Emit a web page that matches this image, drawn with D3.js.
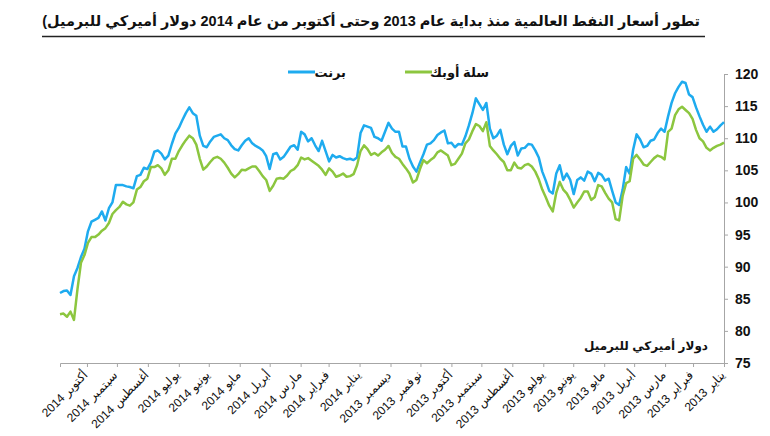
<!DOCTYPE html>
<html><head><meta charset="utf-8">
<script src="https://cdn.jsdelivr.net/npm/d3@7"></script>
<style>
html,body{margin:0;padding:0;background:#fff;}
svg{display:block;font-family:"Liberation Sans",Arial,"DejaVu Sans",sans-serif;}
.rtl{direction:rtl;unicode-bidi:embed;}
</style></head>
<body>
<svg id="chart" width="770" height="436"></svg>
<script>
// ---- data: readings every 3.5 days, chronological from 1 Jan 2013 ----
const titleText = "تطور أسعار النفط العالمية منذ بداية عام 2013 وحتى أكتوبر من عام 2014 دولار أميركي للبرميل)";
const seriesNames = ["برنت", "سلة أوبك"];
const unitLabel = "دولار أميركي للبرميل";
const startDate = "2013-01-01";
const endDate = "2014-10-28";
const stepHours = 84;
const brent = [
  112.5,112.0,111.4,111.0,111.8,111.0,112.1,113.4,114.8,116.4,
  116.8,118.6,118.8,118.0,117.0,115.5,113.4,111.0,111.5,110.8,
  109.8,109.6,108.8,108.6,109.8,110.6,108.2,104.5,105.5,102.0,
  99.6,100.0,101.8,103.7,103.4,104.3,104.6,103.3,104.5,104.8,
  103.4,103.9,103.5,101.3,103.5,104.5,103.5,105.8,104.5,101.4,
  101.8,103.4,104.8,107.0,108.1,109.0,109.1,108.5,108.4,107.3,
  109.4,108.8,107.5,109.0,111.3,110.4,110.0,111.5,115.5,114.4,
  115.3,116.2,113.9,112.0,110.3,109.0,109.1,108.6,109.3,109.2,
  111.2,110.9,110.5,109.7,109.2,109.0,107.5,106.2,104.8,105.6,
  106.8,108.7,108.7,111.0,111.0,111.5,112.4,111.0,109.6,110.0,
  110.2,111.6,111.8,112.0,110.8,107.0,106.6,106.8,106.7,106.9,
  107.2,107.0,107.4,106.4,108.0,109.6,108.0,108.9,110.0,109.5,
  110.6,111.0,108.2,108.9,108.7,107.9,107.1,106.7,107.7,107.5,
  105.2,107.2,108.1,108.5,108.8,109.2,110.0,109.6,108.9,108.1,
  108.3,108.9,109.7,110.0,110.6,110.4,110.2,109.5,108.6,108.8,
  110.4,113.5,113.9,114.8,113.9,112.8,111.6,110.7,109.1,107.3,
  106.7,107.6,108.1,107.9,106.2,105.2,105.4,104.3,104.1,102.2,
  102.4,102.5,102.7,102.7,102.7,100.0,99.1,97.2,98.6,97.6,
  97.3,97.0,95.5,92.8,91.5,89.8,88.5,85.6,86.3,86.2,
  85.9];
const opec = [
  109.3,109.0,108.8,108.5,108.1,108.5,109.5,110.0,111.3,113.0,
  113.9,114.4,114.9,114.5,113.6,111.5,111.0,106.7,107.1,107.3,
  106.9,106.3,105.7,105.9,106.7,107.4,106.8,103.3,103.0,101.0,
  97.2,97.4,100.0,100.6,101.5,102.5,102.7,100.8,100.4,101.7,
  101.7,100.7,100.0,99.2,100.4,101.4,102.0,103.2,101.5,98.6,
  99.5,100.8,102.0,103.6,104.8,105.6,106.0,105.8,105.3,105.4,
  106.2,105.0,105.0,106.3,106.8,107.5,108.1,108.8,112.5,111.1,
  111.9,112.2,111.1,109.8,109.2,107.6,106.8,106.0,105.8,107.3,
  107.7,108.1,107.8,107.0,106.6,106.1,106.6,105.2,103.5,103.1,
  104.5,105.3,106.0,106.8,107.1,107.7,108.8,108.2,107.8,107.3,
  107.7,107.4,108.3,108.9,108.0,105.8,104.4,104.1,104.0,104.5,
  104.2,104.0,104.8,105.3,104.3,105.1,105.7,106.1,106.5,106.9,
  106.7,107.0,105.8,105.2,104.9,104.2,103.7,103.8,103.7,102.6,
  101.8,103.5,104.1,104.9,105.6,105.6,105.3,105.0,105.1,104.4,
  103.9,104.5,105.4,106.2,106.8,107.1,106.9,106.3,105.6,105.1,
  106.8,109.0,110.0,110.4,109.7,108.9,108.0,106.8,106.8,105.0,
  104.3,105.3,105.8,105.5,105.5,103.7,103.3,102.4,102.0,100.0,
  99.5,99.7,100.1,99.3,98.8,98.2,96.8,96.0,95.6,95.0,
  94.6,94.6,93.7,91.8,90.6,86.5,81.7,83.0,82.2,82.7,
  82.6];
const monthLabels = ["يناير 2013","فبراير 2013","مارس 2013","أبريل 2013","مايو 2013","يونيو 2013",
  "يوليو 2013","أغسطس 2013","سبتمبر 2013","أكتوبر 2013","نوفمبر 2013","ديسمبر 2013",
  "يناير 2014","فبراير 2014","مارس 2014","أبريل 2014","مايو 2014","يونيو 2014",
  "يوليو 2014","أغسطس 2014","سبتمبر 2014","أكتوبر 2014"];
const yTicks = [75,80,85,90,95,100,105,110,115,120];
const colors = ["#1eabef", "#8cc63f"];

// ---- layout ----
const svg = d3.select("#chart");
const parse = d3.utcParse("%Y-%m-%d");
const t0 = parse(startDate), t1 = parse(endDate);
const x = d3.scaleUtc().domain([t0, t1]).range([724, 60]);
const y = d3.scaleLinear().domain([75, 120]).range([363, 74]);

const pointDates = brent.map((_, i) => d3.utcHour.offset(t0, stepHours * i));
const monthDates = monthLabels.map((_, i) => d3.utcMonth.offset(t0, i));

// helper: place RTL text so that its visual right edge sits at xr
function rtlText(sel, txt, xr, yb, size, bold) {
  const t = sel.append("text").attr("class", "rtl")
    .attr("font-size", size).attr("font-weight", bold ? "bold" : null)
    .attr("fill", "#111").attr("x", 0).attr("y", yb).text(txt);
  const bb = t.node().getBBox();
  t.attr("x", xr - (bb.x + bb.width));
  return t;
}

// title
let title = rtlText(svg, titleText, 700, 26, 17, true);
const tw = title.node().getBBox().width;
title.remove();
title = rtlText(svg, titleText, 700, 26, 17 * 658 / tw, true);
svg.append("line").attr("x1", 42).attr("x2", 705).attr("y1", 36.5).attr("y2", 36.5)
  .attr("stroke", "#222").attr("stroke-width", 1.5);

// x axis
const xAxis = svg.append("g").attr("transform", "translate(0,363)")
  .call(d3.axisBottom(x).tickValues(monthDates).tickFormat(() => "").tickSizeOuter(0).tickSize(4));
xAxis.select(".domain").attr("stroke", "#a6a6a6");
xAxis.selectAll(".tick line").attr("stroke", "#a6a6a6");
xAxis.selectAll(".tick").each(function(d, i) {
  const g = d3.select(this).append("g").attr("transform", "translate(1,13) rotate(-45)");
  rtlText(g, monthLabels[i], 0, 0, 12, false);
});

// y axis
const yAxis = svg.append("g").attr("transform", "translate(724,0)")
  .call(d3.axisRight(y).tickValues(yTicks).tickSizeOuter(0).tickSize(4));
yAxis.select(".domain").attr("stroke", "#a6a6a6");
yAxis.selectAll(".tick line").attr("stroke", "#a6a6a6");
yAxis.selectAll(".tick text")
  .attr("x", 11).attr("font-size", 14).attr("font-weight", "bold").attr("fill", "#111")
  .attr("text-anchor", "start");

// lines
const line = d3.line().x((d, i) => x(pointDates[i])).y(d => y(d)).curve(d3.curveLinear);
[brent, opec].forEach((s, k) => {
  svg.append("path").datum(s)
    .attr("d", line)
    .attr("fill", "none")
    .attr("stroke", colors[k])
    .attr("stroke-width", 2.5)
    .attr("stroke-linejoin", "round");
});

// legend
const legendItems = [
  {name: seriesNames[0], color: colors[0], lx: 288, tx: 346},
  {name: seriesNames[1], color: colors[1], lx: 405, tx: 489}
];
legendItems.forEach(it => {
  svg.append("line").attr("x1", it.lx).attr("x2", it.lx + 27).attr("y1", 72).attr("y2", 72)
    .attr("stroke", it.color).attr("stroke-width", 3);
  rtlText(svg, it.name, it.tx, 77, 13, true);
});

// unit label
rtlText(svg, unitLabel, 708, 350, 12, true);
</script>
</body></html>
